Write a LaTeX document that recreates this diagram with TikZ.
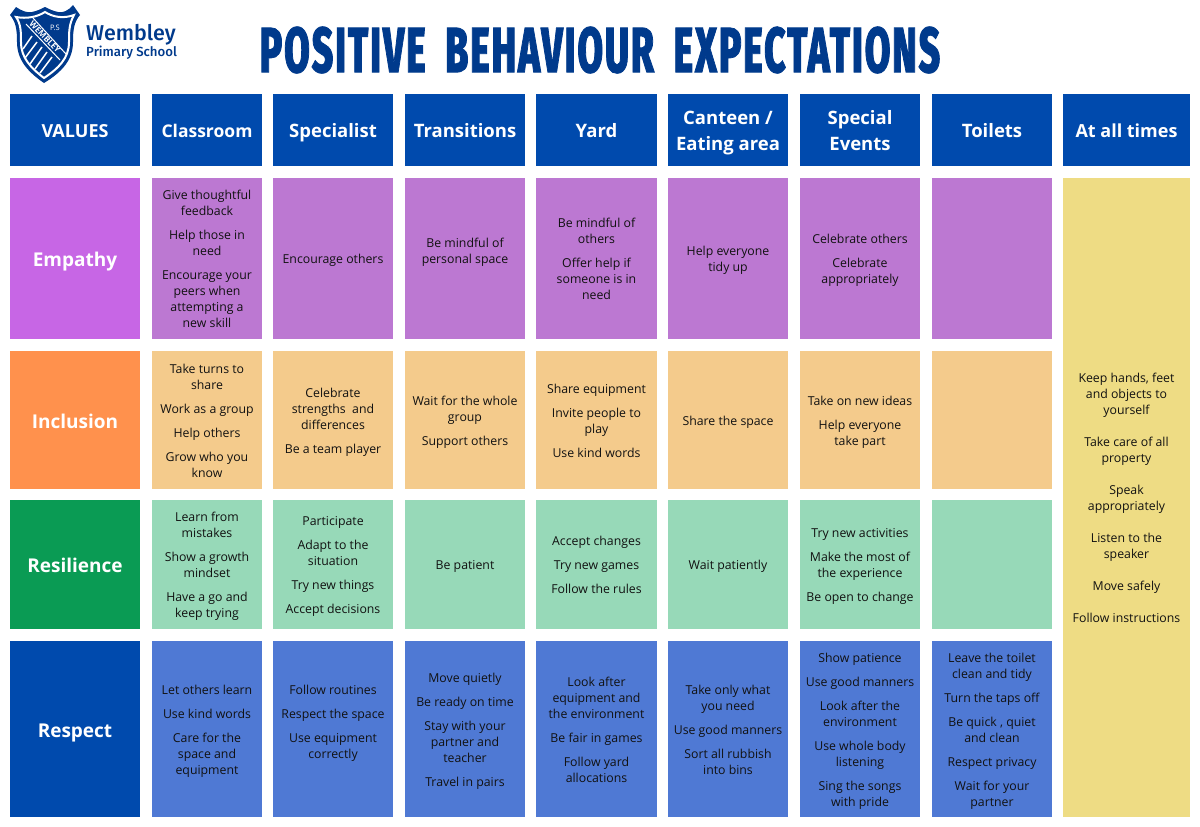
\documentclass[tikz,border=0pt]{standalone}
\usepackage{fontspec}
\setmainfont{Open Sans}
\newfontfamily\titlefont[FakeStretch=0.58,FakeBold=1.2,LetterSpace=3,WordSpace=1.9]{Fira Sans ExtraBold}
\newfontfamily\brandfont{Fira Sans Medium}
\definecolor{navy}{HTML}{003A8C}
\definecolor{headblue}{HTML}{004AAD}
\definecolor{empA}{HTML}{C766E5}
\definecolor{empB}{HTML}{BC78D2}
\definecolor{incA}{HTML}{FF914D}
\definecolor{incB}{HTML}{F4CB8C}
\definecolor{resA}{HTML}{0A9B54}
\definecolor{resB}{HTML}{97D9B8}
\definecolor{respB}{HTML}{4F79D4}
\definecolor{allB}{HTML}{EEDC84}
\definecolor{inkc}{HTML}{111111}
\tikzset{x=1pt,y=-1pt,
 cellbox/.style={inner sep=0pt,outer sep=0pt,align=center,text=inkc,font=\fontsize{12.3}{16}\selectfont},
 headtext/.style={text=white,align=center,inner sep=0pt,font=\fontsize{18.5}{26}\selectfont\bfseries},
 valtext/.style={text=white,align=center,inner sep=0pt,font=\fontsize{19}{24}\selectfont\bfseries}}
\def\dy{1.8}
\newcommand{\cell}[7]{% name,x0,y0,x1,y1,fill,text
 \fill[#6] (#2,#3) rectangle (#4,#5);
 \node[cellbox] (#1) at ({(#2+#4)/2},{(#3+#5)/2+\dy}) {\strut #7\strut};}
\newcommand{\hcell}[6]{\fill[headblue] (#2,#3) rectangle (#4,#5);
 \node[headtext] (#1) at ({(#2+#4)/2},{(#3+#5)/2+2.5}) {\strut #6\strut};}
\newcommand{\vcell}[7]{\fill[#6] (#2,#3) rectangle (#4,#5);
 \node[valtext] (#1) at ({(#2+#4)/2},{(#3+#5)/2+3.2}) {\strut #7\strut};}
\newcommand{\gap}{\\[8pt]}
\begin{document}
\begin{tikzpicture}
\useasboundingbox (0,0) rectangle (1200,827);
\fill[white] (0,0) rectangle (1200,827);
% logo
\fill[navy] (10,15) -- (16,7) .. controls (22,11) and (27,13) .. (32,12) .. controls (37,11) and (41,9) .. (45,7) .. controls (49,9) and (53,11) .. (58,12) .. controls (63,13) and (68,11) .. (73,5) -- (80,15) .. controls (74,22) and (73,30) .. (73,42) .. controls (73,60) and (62,72) .. (44,83) .. controls (28,72) and (17,60) .. (17,42) .. controls (17,30) and (16,22) .. (10,15) -- cycle;
\draw[white,line width=2pt] (16,17) .. controls (27,19) and (37,17) .. (45,12) .. controls (53,17) and (63,19) .. (74,15) .. controls (69,24) and (69,32) .. (69,42) .. controls (69,58) and (59,68) .. (44,78) .. controls (31,68) and (21,58) .. (21,42) .. controls (21,32) and (21,24) .. (16,17) -- cycle;
\draw[white,line width=1pt] (26,24) -- (60,60);
\draw[white,line width=1pt] (33,18) -- (66,54);
\node[text=white,rotate=-46,font=\fontsize{8.2}{8}\selectfont\bfseries,inner sep=0pt] (crest) at (45,37) {WEMBLEY};
\node[text=white,font=\fontsize{7.5}{8}\selectfont,inner sep=0pt] (ps) at (55,28) {P.S};
\foreach \a/\b/\c/\d in {32/36/23/49,37/42/25/58,42/47/30/64,47/52/35/69,52/57/40/73}{\draw[white,line width=1.5pt] (\a,\b) -- (\c,\d);}
\node[anchor=west,text=navy,inner sep=0pt,font=\brandfont\fontsize{21.5}{22}\selectfont] (brandA) at (86,34.5) {Wembley};
\node[anchor=west,text=navy,inner sep=0pt,font=\brandfont\fontsize{13.2}{15}\selectfont] (brandB) at (86,52.5) {Primary School};
\node[text=navy,inner sep=0pt,font=\titlefont\fontsize{64}{66}\selectfont] (title) at (600,50) {POSITIVE BEHAVIOUR EXPECTATIONS};
% headers
\hcell{hVal}{10}{94}{140}{166}{\fontsize{18}{22}\selectfont VALUES}
\hcell{hCla}{152}{94}{262}{166}{\fontsize{17.5}{22}\selectfont Classroom}
\hcell{hSpe}{273}{94}{393}{166}{Specialist}
\hcell{hTra}{405}{94}{525}{166}{Transitions}
\hcell{hYar}{536}{94}{657}{166}{Yard}
\hcell{hCan}{668}{94}{788}{166}{Canteen /\\Eating area}
\hcell{hEve}{800}{94}{920}{166}{Special\\Events}
\hcell{hToi}{932}{94}{1052}{166}{Toilets}
\hcell{hAll}{1063}{94}{1190}{166}{\fontsize{18}{22}\selectfont At all times}
% values
\vcell{vEmp}{10}{178}{140}{339}{empA}{Empathy}
\vcell{vInc}{10}{351}{140}{489}{incA}{Inclusion}
\vcell{vRes}{10}{500}{140}{629}{resA}{Resilience}
\vcell{vRsp}{10}{641}{140}{817}{headblue}{Respect}
% empathy
\cell{e1}{152}{178}{262}{339}{empB}{Give thoughtful\\feedback\gap Help those in\\need\gap Encourage your\\peers when\\attempting a\\new skill}
\cell{e2}{273}{178}{393}{339}{empB}{Encourage others}
\def\dy{-6.2}
\cell{e3}{405}{178}{525}{339}{empB}{Be mindful of\\personal space}
\def\dy{1.8}
\cell{e4}{536}{178}{657}{339}{empB}{Be mindful of\\others\gap Offer help if\\someone is in\\need}
\cell{e5}{668}{178}{788}{339}{empB}{Help everyone\\tidy up}
\cell{e6}{800}{178}{920}{339}{empB}{Celebrate others\gap Celebrate\\appropriately}
\fill[empB] (932,178) rectangle (1052,339);
% inclusion
\cell{i1}{152}{351}{262}{489}{incB}{Take turns to\\share\gap Work as a group\gap Help others\gap Grow who you\\know}
\cell{i2}{273}{351}{393}{489}{incB}{Celebrate\\strengths~ and\\differences\gap Be a team player}
\cell{i3}{405}{351}{525}{489}{incB}{Wait for the whole\\group\gap Support others}
\cell{i4}{536}{351}{657}{489}{incB}{Share equipment\gap Invite people to\\play\gap Use kind words}
\cell{i5}{668}{351}{788}{489}{incB}{Share the space}
\cell{i6}{800}{351}{920}{489}{incB}{Take on new ideas\gap Help everyone\\take part}
\fill[incB] (932,351) rectangle (1052,489);
% resilience
\cell{r1}{152}{500}{262}{629}{resB}{Learn from\\mistakes\gap Show a growth\\mindset\gap Have a go and\\keep trying}
\cell{r2}{273}{500}{393}{629}{resB}{Participate\gap Adapt to the\\situation\gap Try new things\gap Accept decisions}
\cell{r3}{405}{500}{525}{629}{resB}{Be patient}
\cell{r4}{536}{500}{657}{629}{resB}{Accept changes\gap Try new games\gap Follow the rules}
\cell{r5}{668}{500}{788}{629}{resB}{Wait patiently}
\cell{r6}{800}{500}{920}{629}{resB}{Try new activities\gap Make the most of\\the experience\gap Be open to change}
\fill[resB] (932,500) rectangle (1052,629);
% respect
\cell{s1}{152}{641}{262}{817}{respB}{Let others learn\gap Use kind words\gap Care for the\\space and\\equipment}
\def\dy{-6.2}
\cell{s2}{273}{641}{393}{817}{respB}{Follow routines\gap Respect the space\gap Use equipment\\correctly}
\def\dy{1.8}
\cell{s3}{405}{641}{525}{817}{respB}{Move quietly\gap Be ready on time\gap Stay with your\\partner and\\teacher\gap Travel in pairs}
\cell{s4}{536}{641}{657}{817}{respB}{Look after\\equipment and\\the environment\gap Be fair in games\gap Follow yard\\allocations}
\cell{s5}{668}{641}{788}{817}{respB}{Take only what\\you need\gap Use good manners\gap Sort all rubbish\\into bins}
\cell{s6}{800}{641}{920}{817}{respB}{Show patience\gap Use good manners\gap Look after the\\environment\gap Use whole body\\listening\gap Sing the songs\\with pride}
\cell{s7}{932}{641}{1052}{817}{respB}{Leave the toilet\\clean and tidy\gap Turn the taps off\gap Be quick , quiet\\and clean\gap Respect privacy\gap Wait for your\\partner}
% at all times
\cell{all}{1063}{178}{1190}{817}{allB}{Keep hands, feet\\and objects to\\yourself\\[16pt]Take care of all\\property\\[16pt]Speak\\appropriately\\[16pt]Listen to the\\speaker\\[16pt]Move safely\\[16pt]Follow instructions}
\end{tikzpicture}
\end{document}
